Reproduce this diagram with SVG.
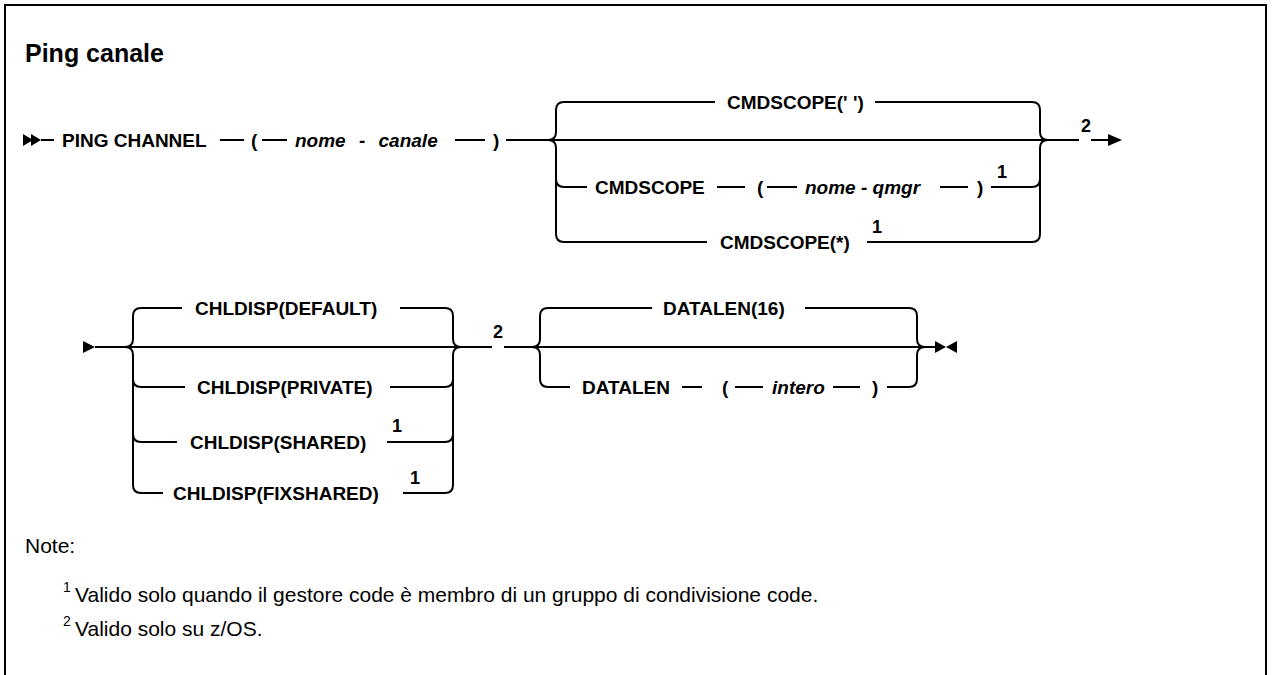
<svg xmlns="http://www.w3.org/2000/svg" width="1273" height="675" viewBox="0 0 1273 675">
<style>
.k{font-family:"Liberation Sans",Arial,sans-serif;font-size:19px;font-weight:bold;fill:#000}
.v{font-family:"Liberation Sans",Arial,sans-serif;font-size:19px;font-weight:bold;font-style:italic;fill:#000}
.s{font-family:"Liberation Sans",Arial,sans-serif;font-size:18px;font-weight:bold;fill:#000}
.n{font-family:"Liberation Sans",Arial,sans-serif;font-size:21px;fill:#000}
.ns{font-family:"Liberation Sans",Arial,sans-serif;font-size:14px;fill:#000}
.ttl{font-family:"Liberation Sans",Arial,sans-serif;font-size:25px;font-weight:bold;fill:#000}
.c path,.c line{fill:none;stroke:#000;stroke-width:2}
.m{fill:#000;stroke:none}
</style>
<rect x="5" y="5" width="1261" height="720" fill="#fff" stroke="#000" stroke-width="2"/>
<text class="ttl" x="25" y="62">Ping canale</text>

<g id="connectors" class="c">
  <!-- row 1 -->
  <line x1="41" y1="140" x2="54" y2="140"/>
  <line x1="220" y1="140" x2="244" y2="140"/>
  <line x1="262" y1="140" x2="287" y2="140"/>
  <line x1="455" y1="140" x2="485" y2="140"/>
  <line x1="506" y1="140" x2="1079" y2="140"/>
  <path d="M564,102 Q556,102 556,110 L556,132 Q556,140 548,140 Q556,140 556,148 L556,234 Q556,242 564,242"/>
  <path d="M556,179 Q556,187 564,187"/>
  <path d="M1032,102 Q1040,102 1040,110 L1040,132 Q1040,140 1048,140 Q1040,140 1040,148 L1040,234 Q1040,242 1032,242"/>
  <path d="M1040,179 Q1040,187 1032,187"/>
  <line x1="564" y1="102" x2="715" y2="102"/>
  <line x1="875" y1="102" x2="1032" y2="102"/>
  <line x1="564" y1="187" x2="587" y2="187"/>
  <line x1="717" y1="187" x2="745" y2="187"/>
  <line x1="767" y1="187" x2="797" y2="187"/>
  <line x1="940" y1="187" x2="968" y2="187"/>
  <line x1="991" y1="187" x2="1032" y2="187"/>
  <line x1="564" y1="242" x2="707" y2="242"/>
  <line x1="867" y1="242" x2="1032" y2="242"/>
  <line x1="1091" y1="140" x2="1110" y2="140"/>
  <!-- row 2 -->
  <line x1="95" y1="347" x2="492" y2="347"/>
  <line x1="504" y1="347" x2="935" y2="347"/>
  <path d="M141,308 Q133,308 133,316 L133,339 Q133,347 125,347 Q133,347 133,355 L133,485 Q133,493 141,493"/>
  <path d="M133,379 Q133,387 141,387"/>
  <path d="M133,434 Q133,442 141,442"/>
  <path d="M445,308 Q453,308 453,316 L453,339 Q453,347 461,347 Q453,347 453,355 L453,485 Q453,493 445,493"/>
  <path d="M453,379 Q453,387 445,387"/>
  <path d="M453,434 Q453,442 445,442"/>
  <line x1="141" y1="308" x2="182" y2="308"/>
  <line x1="400" y1="308" x2="445" y2="308"/>
  <line x1="141" y1="387" x2="185" y2="387"/>
  <line x1="390" y1="387" x2="445" y2="387"/>
  <line x1="141" y1="442" x2="177" y2="442"/>
  <line x1="387" y1="442" x2="445" y2="442"/>
  <line x1="141" y1="493" x2="163" y2="493"/>
  <line x1="403" y1="493" x2="445" y2="493"/>
  <path d="M548,308 Q540,308 540,316 L540,339 Q540,347 532,347 Q540,347 540,355 L540,379 Q540,387 548,387"/>
  <path d="M909,308 Q917,308 917,316 L917,339 Q917,347 925,347 Q917,347 917,355 L917,379 Q917,387 909,387"/>
  <line x1="548" y1="308" x2="652" y2="308"/>
  <line x1="805" y1="308" x2="909" y2="308"/>
  <line x1="548" y1="387" x2="570" y2="387"/>
  <line x1="682" y1="387" x2="702" y2="387"/>
  <line x1="735" y1="387" x2="763" y2="387"/>
  <line x1="833" y1="387" x2="860" y2="387"/>
  <line x1="887" y1="387" x2="909" y2="387"/>
</g>

<g id="markers">
  <polygon class="m" points="23,134 33,140 23,146"/>
  <polygon class="m" points="31,134 41,140 31,146"/>
  <polygon class="m" points="1108,134 1122,140 1108,146"/>
  <polygon class="m" points="83,341 95,347 83,353"/>
  <polygon class="m" points="935,341 946,347 935,353"/>
  <polygon class="m" points="957,341 946,347 957,353"/>
</g>

<g id="n-ping"><text class="k" x="62" y="147">PING CHANNEL</text></g>
<g id="n-lp1"><text class="k" x="251" y="147">(</text></g>
<g id="n-nomecanale"><text class="v" x="295" y="147" word-spacing="8">nome - canale</text></g>
<g id="n-rp1"><text class="k" x="493" y="147">)</text></g>

<g id="n-cmdscope-blank"><text class="k" x="727" y="109">CMDSCOPE(' ')</text></g>
<g id="n-cmdscope"><text class="k" x="595" y="194">CMDSCOPE</text></g>
<g id="n-lp2"><text class="k" x="757" y="194">(</text></g>
<g id="n-nomeqmgr"><text class="v" x="805" y="194">nome - qmgr</text></g>
<g id="n-rp2"><text class="k" x="977" y="194">)</text></g>
<g id="n-fn1a"><text class="s" x="997" y="178">1</text></g>
<g id="n-cmdscope-star"><text class="k" x="720" y="249">CMDSCOPE(*)</text></g>
<g id="n-fn1b"><text class="s" x="872" y="233">1</text></g>
<g id="n-fn2a"><text class="s" x="1081" y="132">2</text></g>

<g id="n-default"><text class="k" x="195" y="315">CHLDISP(DEFAULT)</text></g>
<g id="n-private"><text class="k" x="197" y="394">CHLDISP(PRIVATE)</text></g>
<g id="n-shared"><text class="k" x="190" y="449">CHLDISP(SHARED)</text></g>
<g id="n-fn1c"><text class="s" x="392" y="432">1</text></g>
<g id="n-fixshared"><text class="k" x="173" y="500">CHLDISP(FIXSHARED)</text></g>
<g id="n-fn1d"><text class="s" x="410" y="484">1</text></g>
<g id="n-fn2b"><text class="s" x="493" y="338">2</text></g>

<g id="n-datalen16"><text class="k" x="663" y="315">DATALEN(16)</text></g>
<g id="n-datalen"><text class="k" x="582" y="394">DATALEN</text></g>
<g id="n-lp3"><text class="k" x="722" y="394">(</text></g>
<g id="n-intero"><text class="v" x="772" y="394">intero</text></g>
<g id="n-rp3"><text class="k" x="872" y="394">)</text></g>

<g id="notes">
  <text class="n" x="25" y="553">Note:</text>
  <text class="ns" x="63" y="592">1</text>
  <text class="n" x="75" y="602">Valido solo quando il gestore code è membro di un gruppo di condivisione code.</text>
  <text class="ns" x="63" y="626">2</text>
  <text class="n" x="75" y="636">Valido solo su z/OS.</text>
</g>
</svg>
